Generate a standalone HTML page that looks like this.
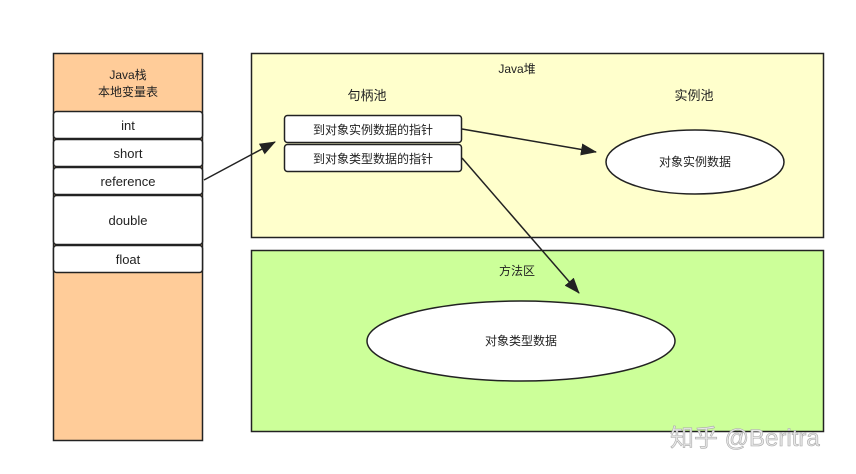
<!DOCTYPE html>
<html><head><meta charset="utf-8"><style>
body{margin:0;background:#fff;}
svg{display:block;font-family:"Liberation Sans","Noto Sans CJK SC",sans-serif;}
</style></head><body>
<svg width="856" height="474" viewBox="0 0 856 474">
<defs><marker id="ah" markerWidth="16" markerHeight="12" refX="15" refY="6" orient="auto" markerUnits="userSpaceOnUse"><path d="M0,0 L16,6 L0,12 z" fill="#222"/></marker></defs>
<g>
<rect x="53.5" y="53.5" width="149" height="387" fill="#ffcc99" stroke="#222" stroke-width="1.5"/>
<text x="128" y="79" font-size="12" text-anchor="middle" fill="#222">Java栈</text>
<text x="128" y="96" font-size="12" text-anchor="middle" fill="#222">本地变量表</text>
<g fill="#fff" stroke="#222" stroke-width="1.5">
<rect x="53.5" y="111.5" width="149" height="27" rx="3"/>
<rect x="53.5" y="139.5" width="149" height="27" rx="3"/>
<rect x="53.5" y="167.5" width="149" height="27" rx="3"/>
<rect x="53.5" y="195.5" width="149" height="49" rx="3"/>
<rect x="53.5" y="245.5" width="149" height="27" rx="3"/>
</g>
<g font-size="13" text-anchor="middle" fill="#222">
<text x="128" y="130">int</text><text x="128" y="158">short</text><text x="128" y="186">reference</text><text x="128" y="225">double</text><text x="128" y="264">float</text>
</g></g>
<g>
<rect x="251.5" y="53.5" width="572" height="184" fill="#ffffcc" stroke="#222" stroke-width="1.5"/>
<text x="517" y="73" font-size="12" text-anchor="middle" fill="#222">Java堆</text>
<text x="367" y="100" font-size="13" text-anchor="middle" fill="#222">句柄池</text>
<text x="694" y="100" font-size="13" text-anchor="middle" fill="#222">实例池</text>
<rect x="284.5" y="115.5" width="177" height="27" rx="3" fill="#fff" stroke="#222" stroke-width="1.5"/>
<rect x="284.5" y="144.5" width="177" height="27" rx="3" fill="#fff" stroke="#222" stroke-width="1.5"/>
<text x="373" y="134" font-size="12" text-anchor="middle" fill="#222">到对象实例数据的指针</text>
<text x="373" y="163" font-size="12" text-anchor="middle" fill="#222">到对象类型数据的指针</text>
<ellipse cx="695" cy="162" rx="89" ry="32" fill="#fff" stroke="#222" stroke-width="1.5"/>
<text x="695" y="166" font-size="12" text-anchor="middle" fill="#222">对象实例数据</text>
</g>
<g>
<rect x="251.5" y="250.5" width="572" height="181" fill="#ccff99" stroke="#222" stroke-width="1.5"/>
<text x="517" y="275" font-size="12" text-anchor="middle" fill="#222">方法区</text>
<ellipse cx="521" cy="341" rx="154" ry="40" fill="#fff" stroke="#222" stroke-width="1.5"/>
<text x="521" y="345" font-size="12" text-anchor="middle" fill="#222">对象类型数据</text>
</g>
<g stroke="#222" stroke-width="1.5" marker-end="url(#ah)">
<line x1="204" y1="180" x2="275" y2="142"/>
<line x1="462" y1="129" x2="596" y2="152"/>
<line x1="462" y1="158" x2="579" y2="293"/>
</g>
<text x="670" y="446" font-size="24" fill="#e8e8e8" stroke="#aaa" stroke-width="0.6">知乎 @Beritra</text>
</svg>
</body></html>
